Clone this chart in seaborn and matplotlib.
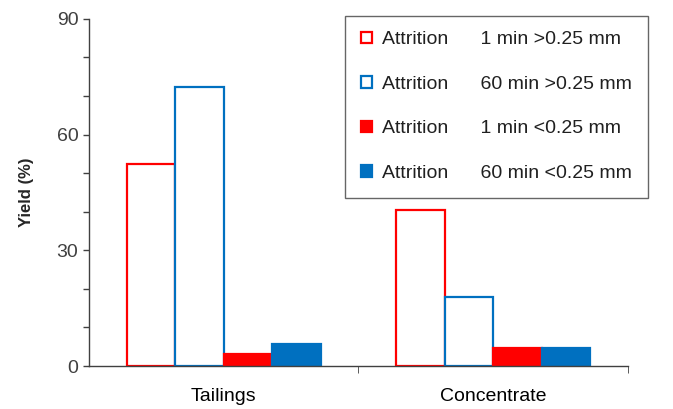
import pandas as pd
import matplotlib.pyplot as plt
import seaborn as sns
from matplotlib.patches import Patch
from matplotlib.ticker import MultipleLocator

groups = ['Tailings', 'Concentrate']
series = ['1 min >0.25 mm', '60 min >0.25 mm', '1 min <0.25 mm', '60 min <0.25 mm']
tailings = [52.4, 72.4, 3.1, 5.7]
concentrate = [40.5, 17.9, 4.8, 4.7]

colors = ['#ff0000', '#0070c0', '#ff0000', '#0070c0']
filled = [False, False, True, True]

rows = []
for s, t, c in zip(series, tailings, concentrate):
    rows.append({'group': 'Tailings', 'series': s, 'yield': t})
    rows.append({'group': 'Concentrate', 'series': s, 'yield': c})
df = pd.DataFrame(rows)

sns.set_style('ticks')
plt.rcParams['font.family'] = ['Liberation Sans', 'DejaVu Sans']

fig = plt.figure(figsize=(6.73, 4.09), dpi=100)
ax = fig.add_axes([0.132, 0.105, 0.801, 0.849])

sns.barplot(data=df, x='group', y='yield', hue='series', order=groups,
            hue_order=series, width=0.72, gap=0, ax=ax, legend=False,
            palette=colors, errorbar=None)

for cont, col, f in zip(ax.containers, colors, filled):
    for p in cont.patches:
        p.set_edgecolor(col)
        p.set_linewidth(1.6)
        p.set_facecolor(col if f else 'white')

ax.set_ylim(0, 90)
ax.set_xlim(-0.5, 1.5)
ax.yaxis.set_major_locator(MultipleLocator(30))
ax.yaxis.set_minor_locator(MultipleLocator(10))
ax.tick_params(axis='y', which='both', direction='out', length=4, width=1,
               color='#404040', labelsize=14, labelcolor='#404040')
ax.tick_params(axis='x', which='major', length=0, labelsize=14,
               labelcolor='black', pad=16)
ax.set_xticks([0.5, 1.5], minor=True)
ax.tick_params(axis='x', which='minor', direction='out', length=5,
               color='#404040')
ax.set_xlabel('')
ax.set_ylabel('Yield (%)', fontsize=12, fontweight='bold', labelpad=16)
for sp in ['top', 'right']:
    ax.spines[sp].set_visible(False)
for sp in ['left', 'bottom']:
    ax.spines[sp].set_color('#404040')
    ax.spines[sp].set_linewidth(1)

handles = [Patch(facecolor=(c if f else 'white'), edgecolor=c, linewidth=1.6)
           for c, f in zip(colors, filled)]
labels = ['Attrition      ' + s for s in series]
leg = ax.legend(handles, labels, loc='upper right', bbox_to_anchor=(1.037, 1.009),
                borderaxespad=0, fontsize=14, frameon=True, fancybox=False,
                handlelength=0.55, handleheight=0.55, handletextpad=0.55,
                labelspacing=1.42, borderpad=0.8)
leg.get_frame().set_edgecolor('#404040')
leg.get_frame().set_linewidth(1)
for t in leg.get_texts():
    t.set_color('#202020')

fig.savefig('out.png', dpi=100)
